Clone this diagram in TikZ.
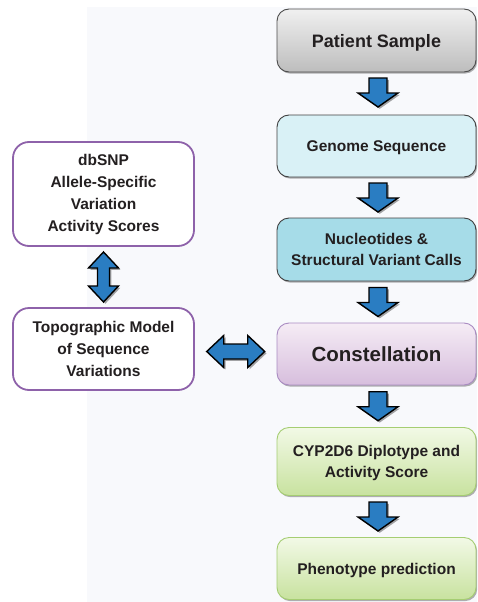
\documentclass[tikz,border=0pt]{standalone}
\usepackage{fontspec}
\setmainfont{Liberation Sans}
\usetikzlibrary{shadows,calc}

\definecolor{inkdark}{HTML}{231F20}
\definecolor{panelbg}{HTML}{F8F9FC}
\definecolor{arrowblue}{HTML}{2A7DC2}
\definecolor{lilacline}{HTML}{8E62AA}
\definecolor{conline}{HTML}{A98BC2}
\definecolor{contop}{HTML}{F5ECF5}
\definecolor{conbot}{HTML}{D7BEDD}
\definecolor{greenline}{HTML}{A5CD72}
\definecolor{greentop}{HTML}{F2F9E6}
\definecolor{greenbot}{HTML}{C8E29F}
\definecolor{graytop}{HTML}{F0F0F0}
\definecolor{graybot}{HTML}{BDBDBD}
\definecolor{paleteal}{HTML}{D9F1F6}
\definecolor{midteal}{HTML}{A6DCE8}

\tikzset{
  boxshadow/.style={drop shadow={shadow xshift=1.2pt, shadow yshift=-1.6pt, opacity=0.3, fill=black}},
  flowbox/.style={rounded corners=12pt, minimum width=199pt, align=center,
    text=inkdark, font=\bfseries\fontsize{15.5}{21}\selectfont, line width=0.9pt, boxshadow,
    text depth=0pt},
  sidebox/.style={rounded corners=16pt, minimum width=181pt, align=center, fill=white,
    draw=lilacline, line width=1.8pt, text=inkdark, font=\bfseries\fontsize{15.5}{22}\selectfont},
  blockarrow/.style={fill=arrowblue, draw=black, line width=1.4pt, line join=miter,
    drop shadow={shadow xshift=1.8pt, shadow yshift=-1.8pt, opacity=0.35, fill=black}},
  blockdown/.pic={\path[blockarrow] (-9,-14.5) -- (9,-14.5) -- (9,0.5) -- (20,0.5)
      -- (0,14.5) -- (-20,0.5) -- (-9,0.5) -- cycle;},
  blockupdown/.pic={\path[blockarrow] (0,-25) -- (15,-9) -- (6,-9) -- (6,9) -- (15,9)
      -- (0,25) -- (-15,9) -- (-6,9) -- (-6,-9) -- (-15,-9) -- cycle;},
  blockleftright/.pic={\path[blockarrow] (-29,0) -- (-12,-16) -- (-12,-7.5) -- (12,-7.5)
      -- (12,-16) -- (29,0) -- (12,16) -- (12,7.5) -- (-12,7.5) -- (-12,16) -- cycle;},
}

\begin{document}
\begin{tikzpicture}[x=1pt, y=-1pt]
  % page frame and the faint panel behind the pipeline
  \path[use as bounding box, fill=white] (0,0) rectangle (477,602);
  \fill[panelbg] (87,7) rectangle (477,602);

  % main pipeline
  \node[flowbox, minimum height=63pt, draw=black!70, top color=graytop, bottom color=graybot,
        font=\bfseries\fontsize{18}{22}\selectfont] (ps) at (376.5,40.5) {Patient Sample};
  \node[flowbox, minimum height=62pt, draw=black!75, fill=paleteal] (gs) at (376.5,146) {Genome Sequence};
  \node[flowbox, minimum height=63pt, draw=black!75, fill=midteal] (nv) at (376.5,249.5)
        {Nucleotides \&\\Structural Variant Calls};
  \node[flowbox, minimum height=62pt, draw=conline, top color=contop, bottom color=conbot,
        font=\bfseries\fontsize{20.5}{24}\selectfont] (co) at (376.5,354) {Constellation};
  \node[flowbox, minimum height=68pt, draw=greenline, top color=greentop, bottom color=greenbot] (cy)
        at (376.5,461.5) {CYP2D6 Diplotype and\\Activity Score};
  \node[flowbox, minimum height=62pt, draw=greenline, top color=greentop, bottom color=greenbot] (ph)
        at (376.5,568.5) {Phenotype prediction};

  % reference inputs
  \node[sidebox, minimum height=104pt] (db) at (103.5,194)
        {dbSNP\\Allele-Specific\\Variation\\Activity Scores};
  \node[sidebox, minimum height=82pt] (tp) at (103.5,349)
        {Topographic Model\\of Sequence\\Variations};

  % block arrows between stages
  \pic at ($(ps.south)!0.5!(gs.north)+(1.5,-1)$) {blockdown};
  \pic at ($(gs.south)!0.5!(nv.north)+(1.5,0)$) {blockdown};
  \pic at ($(nv.south)!0.5!(co.north)+(1.5,0)$) {blockdown};
  \pic at ($(co.south)!0.5!(cy.north)+(1.5,0)$) {blockdown};
  \pic at ($(cy.south)!0.5!(ph.north)+(1.5,0)$) {blockdown};
  \pic at ($(db.south)!0.5!(tp.north)$) {blockupdown};
  \pic at ($(tp.east)!0.5!(co.west)$) {blockleftright};
\end{tikzpicture}
\end{document}
